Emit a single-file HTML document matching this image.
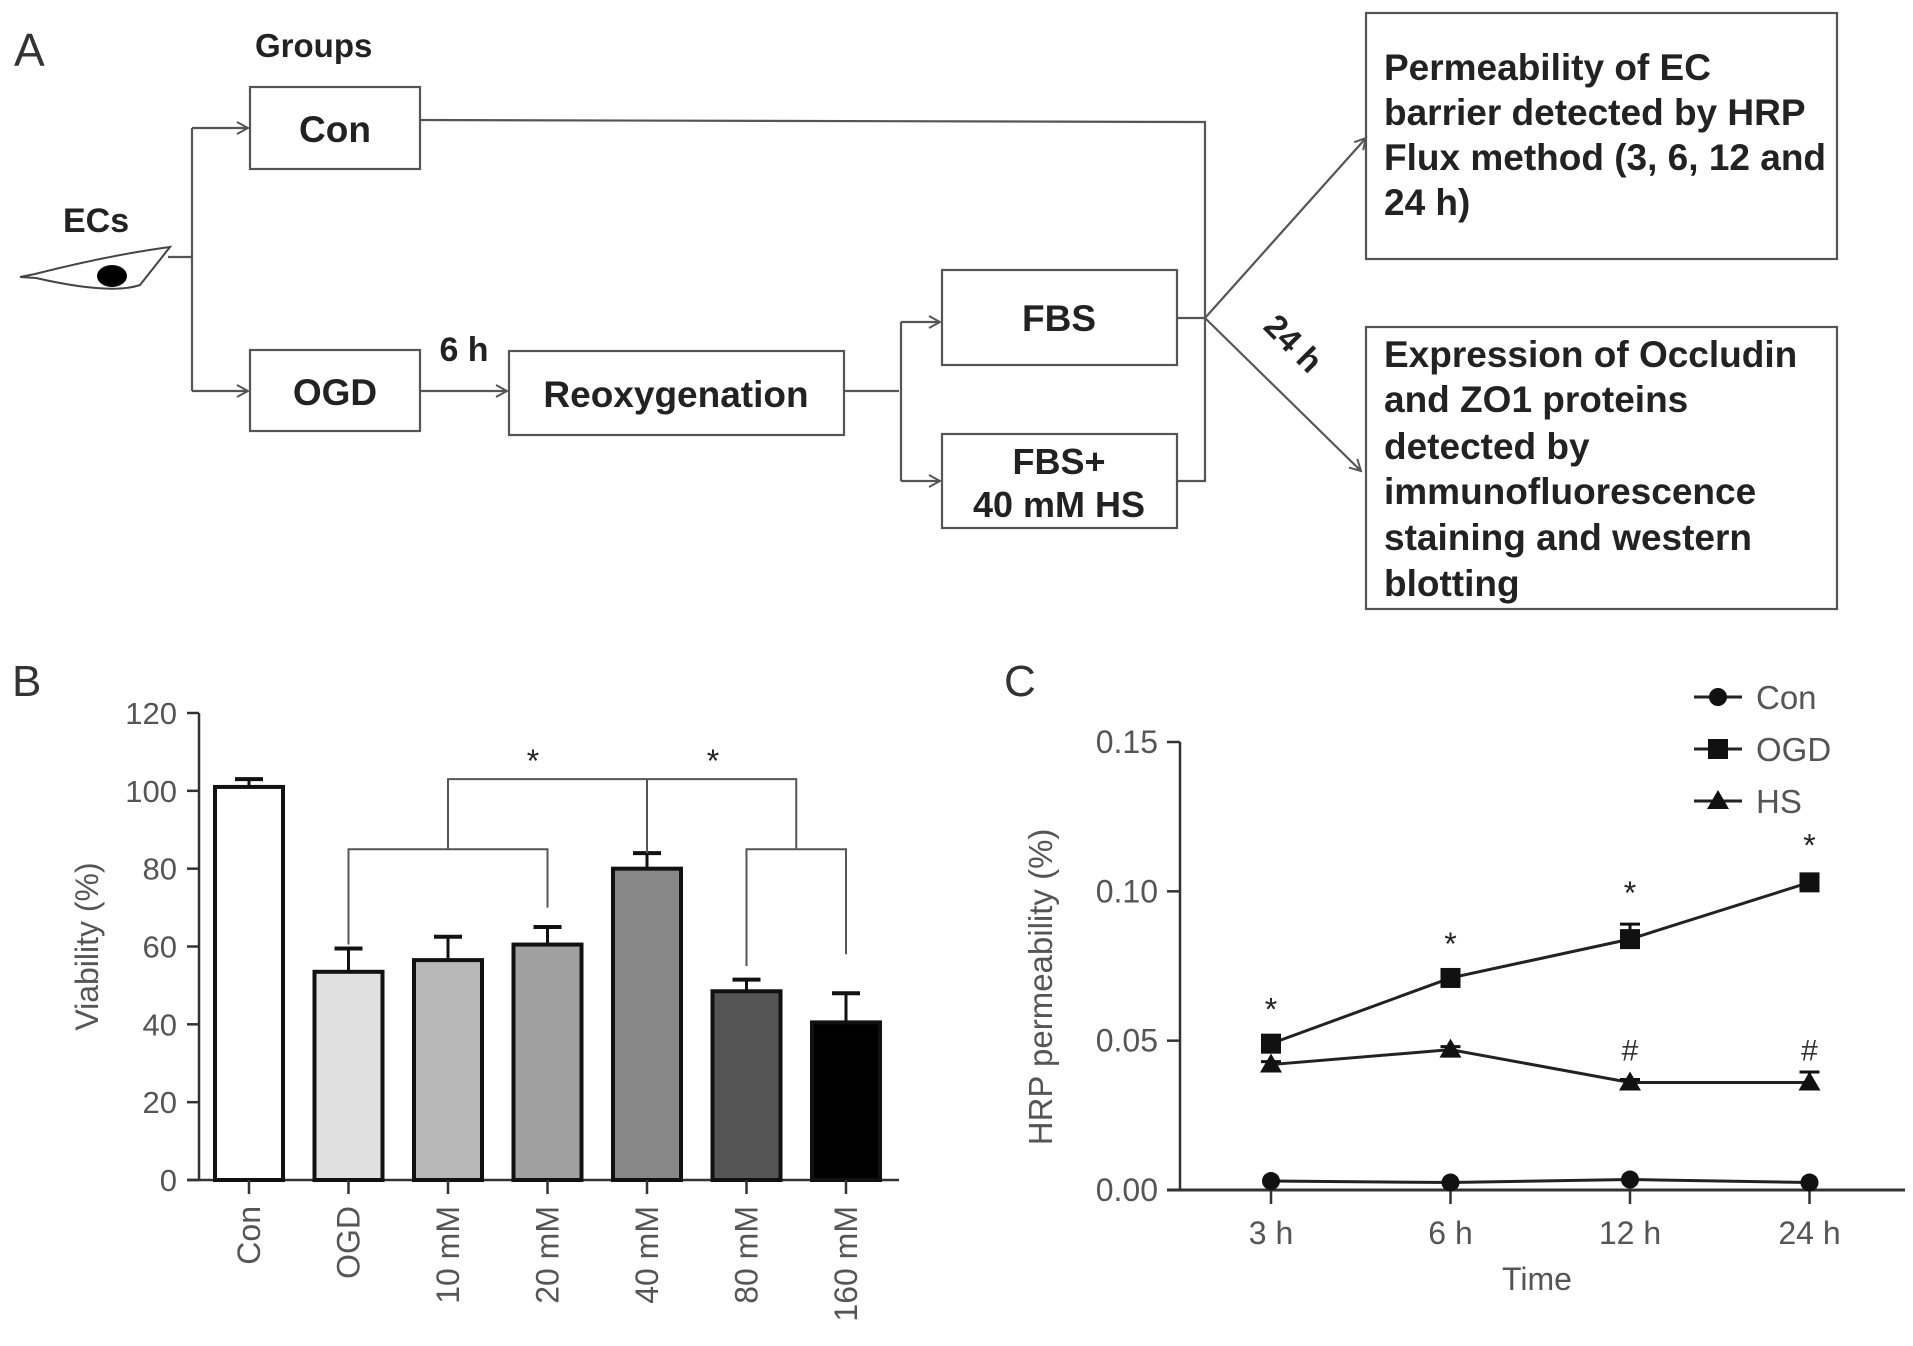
<!DOCTYPE html>
<html><head><meta charset="utf-8"><style>
html,body{margin:0;padding:0;background:#fff;}
svg{display:block;font-family:"Liberation Sans",sans-serif;}
.b{font-weight:bold;fill:#222;}
.t{fill:#555;}
</style></head><body>
<svg id="fig" width="1913" height="1346" viewBox="0 0 1913 1346" xmlns="http://www.w3.org/2000/svg">
<defs><marker id="arr" markerWidth="14" markerHeight="14" refX="12" refY="7" orient="auto" markerUnits="userSpaceOnUse"><path d="M1,1 L12,7 L1,13" fill="none" stroke="#555" stroke-width="2"/></marker></defs>
<g id="panelA" stroke="#555" stroke-width="2.2" fill="none">
<text x="14" y="66" font-size="46" fill="#333" stroke="none">A</text>
<text x="255" y="57" font-size="33" class="b" stroke="none">Groups</text>
<text x="63" y="232" font-size="34" class="b" stroke="none">ECs</text>
<path d="M20,277 L35,274 Q110,255 170,247 L140,285 Q110,295 36,278 Z" stroke="#444" stroke-width="2" fill="#fff"/>
<ellipse cx="112" cy="276" rx="15" ry="11" fill="#000" stroke="none"/>
<path d="M168,257 L192,257 M192,128 L192,391"/>
<path d="M192,128 L248,128" marker-end="url(#arr)"/>
<path d="M192,391 L248,391" marker-end="url(#arr)"/>
<rect x="250" y="87" width="170" height="82"/>
<text x="335" y="142" font-size="37" class="b" text-anchor="middle" stroke="none">Con</text>
<rect x="250" y="350" width="170" height="81"/>
<text x="335" y="405" font-size="37" class="b" text-anchor="middle" stroke="none">OGD</text>
<path d="M420,391 L507,391" marker-end="url(#arr)"/>
<text x="464" y="361" font-size="34" class="b" text-anchor="middle" stroke="none">6 h</text>
<rect x="509" y="351" width="335" height="84"/>
<text x="676" y="407" font-size="37" class="b" text-anchor="middle" stroke="none">Reoxygenation</text>
<path d="M844,391 L899,391"/>
<path d="M901,322 L901,481"/>
<path d="M901,322 L940,322" marker-end="url(#arr)"/>
<path d="M901,481 L940,481" marker-end="url(#arr)"/>
<rect x="942" y="270" width="235" height="95"/>
<text x="1059" y="331" font-size="37" class="b" text-anchor="middle" stroke="none">FBS</text>
<rect x="942" y="434" width="235" height="94"/>
<text x="1059" y="474" font-size="36" class="b" text-anchor="middle" stroke="none">FBS+</text>
<text x="1059" y="517" font-size="36" class="b" text-anchor="middle" stroke="none">40 mM HS</text>
<path d="M420,120 L1205,122 L1205,481 L1177,481 M1177,318 L1205,318"/>
<path d="M1205,318 L1366,138" marker-end="url(#arr)"/>
<path d="M1205,318 L1361,471" marker-end="url(#arr)"/>
<text x="0" y="0" font-size="33" class="b" stroke="none" transform="translate(1262,328) rotate(45)">24 h</text>
<rect x="1366" y="13" width="471" height="246"/>
<g font-size="37" class="b" stroke="none">
<text x="1384" y="80">Permeability of  EC</text>
<text x="1384" y="125">barrier detected by HRP</text>
<text x="1384" y="170">Flux method (3, 6, 12 and</text>
<text x="1384" y="215">24 h)</text>
</g>
<rect x="1366" y="327" width="471" height="282"/>
<g font-size="37" class="b" stroke="none">
<text x="1384" y="367">Expression of Occludin</text>
<text x="1384" y="412">and ZO1 proteins</text>
<text x="1384" y="459">detected by</text>
<text x="1384" y="504">immunofluorescence</text>
<text x="1384" y="550">staining and western</text>
<text x="1384" y="596">blotting</text>
</g>
</g>
<g id="panelB"></g>
<g id="panelC"></g>
</svg>
<script>
const barCategories = ["Con","OGD","10 mM","20 mM","40 mM","80 mM","160 mM"];
const barValues = [101,53.5,56.5,60.5,80,48.5,40.5];
const barErrors = [2,6,6,4.5,4,3,7.5];
const barFills = ["#ffffff","#e0e0e0","#b8b8b8","#a0a0a0","#888888","#555555","#000000"];
const barTicks = [0,20,40,60,80,100,120];
const timeCats = ["3 h","6 h","12 h","24 h"];
const conVals = [0.003,0.0025,0.0035,0.0025];
const ogdVals = [0.049,0.071,0.084,0.103];
const ogdErrs = [0.001,0.001,0.005,0.002];
const hsVals = [0.042,0.047,0.036,0.036];
const hsErrs = [0.001,0.001,0.001,0.0035];
const lineTicks = [0.00,0.05,0.10,0.15];

const NS="http://www.w3.org/2000/svg";
function mk(parent,tag,attrs,text){const e=document.createElementNS(NS,tag);for(const k in attrs)e.setAttribute(k,attrs[k]);if(text!==undefined)e.textContent=text;parent.appendChild(e);return e;}

// Panel B
const B=document.getElementById('panelB');
const bx0=199,bx1=899,by0=1180,by1=713;
const yB=v=>by0-(v/120)*(by0-by1);
const xB=i=>249+i*99.5;
let t=mk(B,'text',{x:12,y:696,'font-size':44,fill:'#333'},'B');


mk(B,'line',{x1:bx0,y1:by1,x2:bx0,y2:by0,stroke:'#333','stroke-width':2.5});
mk(B,'line',{x1:bx0-12,y1:by0,x2:bx1,y2:by0,stroke:'#333','stroke-width':2.5});
barTicks.forEach(v=>{
  mk(B,'line',{x1:bx0-12,y1:yB(v),x2:bx0,y2:yB(v),stroke:'#333','stroke-width':2.5});
  const l=mk(B,'text',{x:bx0-22,y:yB(v)+11,'font-size':31,'text-anchor':'end',class:'t'},v);
  
  
});
t=mk(B,'text',{x:0,y:0,'font-size':32,'text-anchor':'middle',class:'t',transform:`translate(98,${yB(60)}) rotate(-90)`},'Viability (%)');


barCategories.forEach((c,i)=>{
  const cx=xB(i),w=68;
  const r=mk(B,'rect',{x:cx-w/2,y:yB(barValues[i]),width:w,height:by0-yB(barValues[i]),fill:barFills[i],stroke:'#111','stroke-width':4});
  
  
  const top=yB(barValues[i]+barErrors[i]);
  mk(B,'line',{x1:cx,y1:yB(barValues[i]),x2:cx,y2:top,stroke:'#111','stroke-width':3});
  mk(B,'line',{x1:cx-14,y1:top,x2:cx+14,y2:top,stroke:'#111','stroke-width':4});
  mk(B,'line',{x1:cx,y1:by0,x2:cx,y2:by0+14,stroke:'#333','stroke-width':2.5});
  const l=mk(B,'text',{x:0,y:0,'font-size':32,'text-anchor':'end',class:'t',transform:`translate(${cx+11},${by0+26}) rotate(-90)`},c);
  
  
});
const br=mk(B,'path',{fill:'none',stroke:'#555','stroke-width':2,d:
 `M${xB(1)},${yB(60.5)} L${xB(1)},${yB(85)} L${xB(3)},${yB(85)} L${xB(3)},${yB(70)}`+
 ` M${xB(5)},${yB(55)} L${xB(5)},${yB(85)} L${xB(6)},${yB(85)} L${xB(6)},${yB(58)}`+
 ` M${(xB(1)+xB(3))/2},${yB(85)} L${(xB(1)+xB(3))/2},${yB(103)} L${(xB(5)+xB(6))/2},${yB(103)} L${(xB(5)+xB(6))/2},${yB(85)}`+
 ` M${xB(4)},${yB(103)} L${xB(4)},${yB(84)}`});


[533,713].forEach(x=>{const s=mk(B,'text',{x:x,y:772,'font-size':32,'text-anchor':'middle',fill:'#222'},'*');
 
 });

// Panel C
const C=document.getElementById('panelC');
const cx0=1180,cx1=1905,cy0=1190,cy1=742;
const yC=v=>cy0-(v/0.15)*(cy0-cy1);
const xC=i=>1271+i*179.5;
t=mk(C,'text',{x:1004,y:696,'font-size':44,fill:'#333'},'C');


mk(C,'line',{x1:cx0,y1:cy1,x2:cx0,y2:cy0,stroke:'#333','stroke-width':2.5});
mk(C,'line',{x1:cx0-13,y1:cy0,x2:cx1,y2:cy0,stroke:'#333','stroke-width':3});
lineTicks.forEach(v=>{
  mk(C,'line',{x1:cx0-13,y1:yC(v),x2:cx0,y2:yC(v),stroke:'#333','stroke-width':2.5});
  const l=mk(C,'text',{x:cx0-22,y:yC(v)+11,'font-size':32,'text-anchor':'end',class:'t'},v.toFixed(2));
  
  
});
timeCats.forEach((c,i)=>{
  mk(C,'line',{x1:xC(i),y1:cy0,x2:xC(i),y2:cy0+14,stroke:'#333','stroke-width':2.5});
  const l=mk(C,'text',{x:xC(i),y:1244,'font-size':32,'text-anchor':'middle',class:'t'},c);
  
  
});
t=mk(C,'text',{x:1537,y:1290,'font-size':32,'text-anchor':'middle',class:'t'},'Time');


t=mk(C,'text',{x:0,y:0,'font-size':33,'text-anchor':'middle',class:'t',transform:`translate(1052,${yC(0.068)}) rotate(-90)`},'HRP permeability (%)');


function marker(g,shape,x,y){
  if(shape==='circle')return mk(g,'circle',{cx:x,cy:y,r:9,fill:'#111'});
  if(shape==='square')return mk(g,'rect',{x:x-10,y:y-10,width:20,height:20,fill:'#111'});
  return mk(g,'path',{d:`M${x},${y-11} L${x+11},${y+8} L${x-11},${y+8} Z`,fill:'#111'});
}
function series(name,vals,errs,shape){
  const g=mk(C,'g',{});
  
  
  mk(g,'polyline',{points:vals.map((v,i)=>xC(i)+','+yC(v)).join(' '),fill:'none',stroke:'#222','stroke-width':3});
  vals.forEach((v,i)=>{
    if(errs){const tp=yC(v+errs[i]);mk(g,'line',{x1:xC(i),y1:yC(v),x2:xC(i),y2:tp,stroke:'#111','stroke-width':3});mk(g,'line',{x1:xC(i)-10,y1:tp,x2:xC(i)+10,y2:tp,stroke:'#111','stroke-width':3});}
    const m=marker(g,shape,xC(i),yC(v));
    
    
  });
}
series('con',conVals,null,'circle');
series('ogd',ogdVals,ogdErrs,'square');
series('hs',hsVals,hsErrs,'triangle');
ogdVals.forEach((v,i)=>{const s=mk(C,'text',{x:xC(i),y:yC(v+ogdErrs[i])-20,'font-size':32,'text-anchor':'middle',fill:'#222'},'*');
 
 });
[2,3].forEach(i=>{const s=mk(C,'text',{x:xC(i),y:yC(hsVals[i])-22,'font-size':30,'text-anchor':'middle',fill:'#333'},'#');
 
 });
[['Con','circle',697],['OGD','square',749],['HS','triangle',801]].forEach(([n,s,y])=>{
  const g=mk(C,'g',{});
  
  
  mk(g,'line',{x1:1694,y1:y,x2:1742,y2:y,stroke:'#222','stroke-width':3});
  marker(g,s,1718,y);
  mk(g,'text',{x:1756,y:y+12,'font-size':33,class:'t'},n);
});
</script>
</body></html>
